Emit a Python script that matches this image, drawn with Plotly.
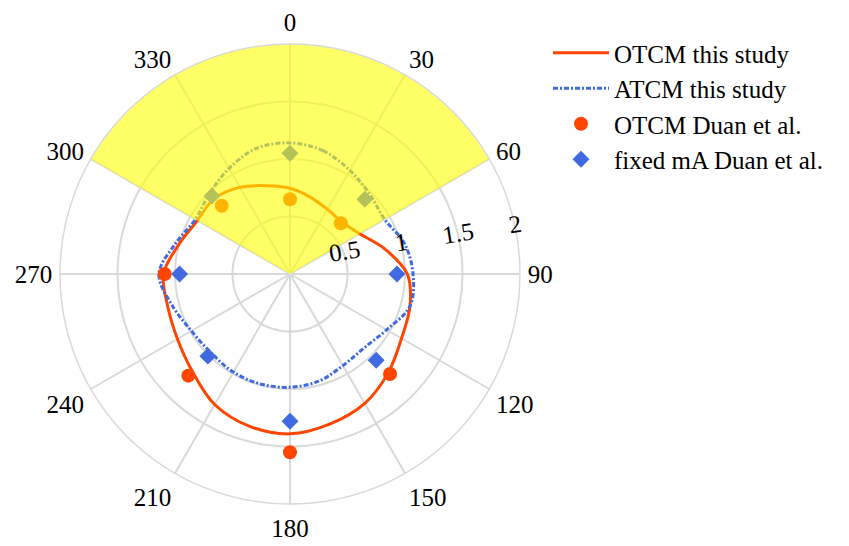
import numpy as np
import plotly.graph_objects as go

# Angular positions (degrees, clockwise from top) of the model curves
theta_curve = [0, 15, 30, 45, 60, 75, 90, 105, 120, 135, 150, 165,
               180, 195, 210, 225, 240, 255, 270, 285, 300, 315, 330, 345, 360]

# OTCM, this study (solid line)
otcm_study = [0.745, 0.69, 0.65, 0.64, 0.70, 0.85, 1.02, 1.08, 1.12, 1.21, 1.30, 1.35,
              1.39, 1.37, 1.31, 1.20, 1.13, 1.10, 1.10, 1.00, 0.93, 0.93, 0.87, 0.795, 0.745]

# ATCM, this study (dash-dot line)
atcm_study = [1.14, 1.11, 1.04, 0.98, 0.95, 1.03, 1.07, 1.08, 0.97, 0.91, 0.92, 0.965,
              0.985, 0.99, 0.985, 0.97, 0.99, 1.06, 1.14, 1.03, 0.95, 0.99, 1.06, 1.13, 1.14]

# Duan et al. measurements
theta_otcm_duan = [0, 45, 135, 180, 225, 270, 315]
otcm_duan = [0.65, 0.625, 1.23, 1.55, 1.25, 1.09, 0.84]

theta_fixed_duan = [0, 45, 90, 135, 180, 225, 270, 315]
fixed_duan = [1.05, 0.92, 0.93, 1.06, 1.28, 1.01, 0.96, 0.96]

# Highlighted angular sector
sector_start, sector_end, sector_r = 300, 420, 2.0

angular_ticks = list(range(0, 360, 30))
radial_ticks = [0.5, 1, 1.5, 2]
radial_labels = ["0.5", "1", "1.5", "2"]

ORANGE = "rgb(255,69,0)"
BLUE = "rgb(65,105,225)"
GRID = "rgb(217,217,217)"
FONT = "Liberation Serif"

fig = go.Figure()

fig.add_trace(go.Scatterpolar(
    r=otcm_study, theta=theta_curve, mode="lines",
    line=dict(color=ORANGE, width=3, shape="spline", smoothing=1.0),
    name="OTCM this study"))

fig.add_trace(go.Scatterpolar(
    r=atcm_study, theta=theta_curve, mode="lines",
    line=dict(color=BLUE, width=3, dash="5px,2px,2px,2px", shape="spline", smoothing=1.0),
    name="ATCM this study"))

fig.add_trace(go.Scatterpolar(
    r=otcm_duan, theta=theta_otcm_duan, mode="markers",
    marker=dict(color=ORANGE, size=14, symbol="circle"),
    name="OTCM Duan et al."))

fig.add_trace(go.Scatterpolar(
    r=fixed_duan, theta=theta_fixed_duan, mode="markers",
    marker=dict(color=BLUE, size=13, symbol="diamond"),
    name="fixed mA Duan et al."))

# Translucent yellow wedge laid over the traces
arc = np.linspace(sector_start, sector_end, 121)
fig.add_trace(go.Scatterpolar(
    r=[0] + [sector_r] * len(arc) + [0],
    theta=[sector_start] + list(arc) + [sector_end],
    mode="lines", fill="toself",
    fillcolor="rgba(255,255,0,0.6)", line=dict(width=0, color="rgba(0,0,0,0)"),
    showlegend=False, hoverinfo="skip"))

fig.update_layout(
    width=849, height=546,
    margin=dict(l=0, r=0, t=0, b=0),
    paper_bgcolor="white",
    font=dict(family=FONT, size=25, color="black"),
    showlegend=True,
    legend=dict(x=548 / 849, y=1 - 30 / 546, xanchor="left", yanchor="top",
                font=dict(family=FONT, size=25, color="black"),
                bgcolor="rgba(0,0,0,0)", tracegroupgap=0, itemwidth=56),
    polar=dict(
        domain=dict(x=[60 / 849, 520 / 849], y=[42 / 546, 502 / 546]),
        bgcolor="white",
        angularaxis=dict(
            rotation=90, direction="clockwise",
            tickmode="array", tickvals=angular_ticks,
            ticktext=[str(t) for t in angular_ticks],
            ticks="outside", ticklen=2, tickcolor="rgba(0,0,0,0)",
            showline=True, linecolor=GRID, linewidth=1.5,
            showgrid=True, gridcolor=GRID, gridwidth=1.5,
            tickfont=dict(family=FONT, size=25, color="black")),
        radialaxis=dict(
            range=[0, 2], angle=9, tickangle=0, side="counterclockwise",
            tickmode="array", tickvals=radial_ticks, ticktext=radial_labels,
            ticks="", showline=False,
            showgrid=True, gridcolor=GRID, gridwidth=1.5,
            tickfont=dict(family=FONT, size=25, color="black")),
    ),
)

fig.write_html("out.html")
